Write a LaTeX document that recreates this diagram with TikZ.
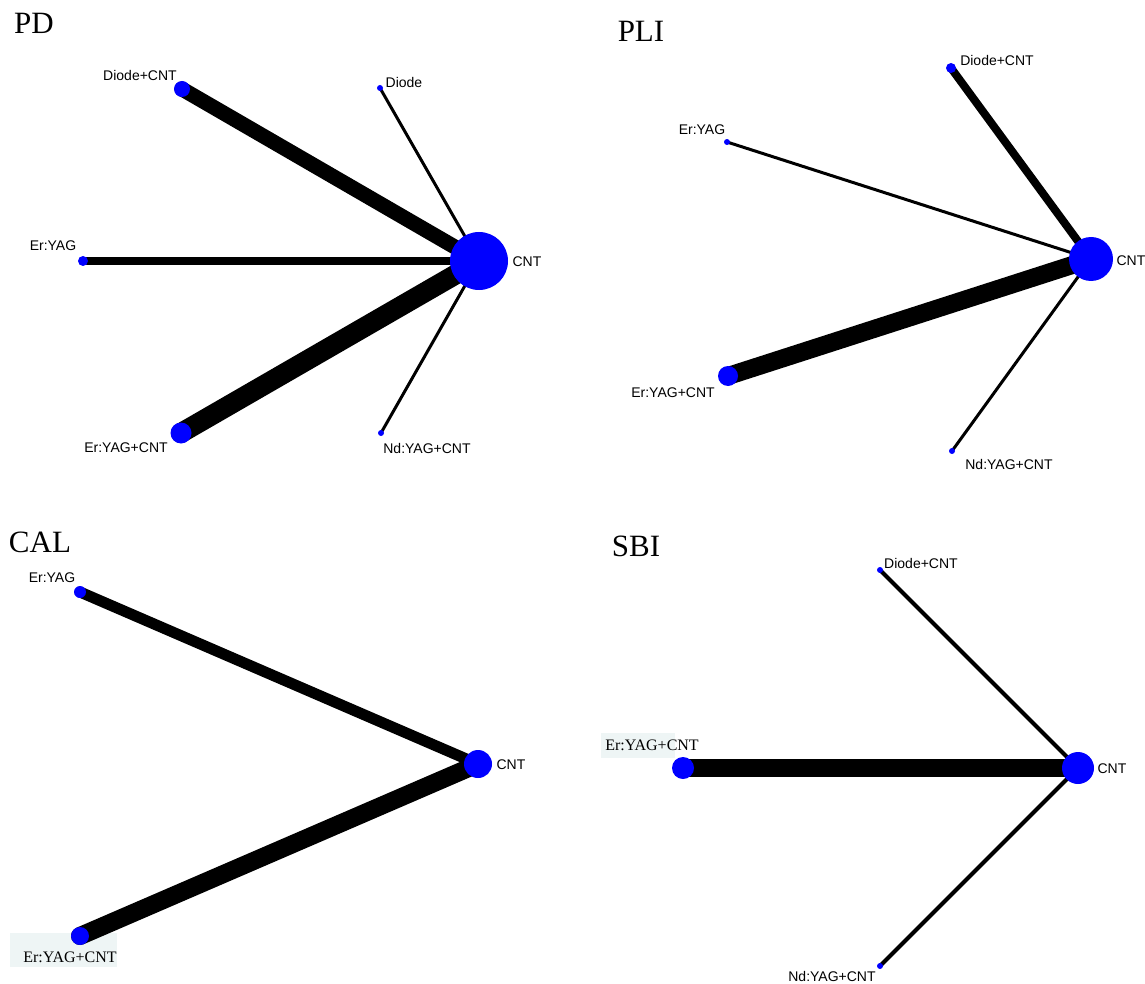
\documentclass[tikz,border=0pt]{standalone}
\usepackage{fontspec}
\setmainfont{Liberation Serif}
\newfontfamily\armfont{Liberation Sans}
\usetikzlibrary{backgrounds}

\definecolor{lbltint}{RGB}{238,245,245}
\tikzset{
	trt/.style={circle,fill=blue,inner sep=0pt,minimum size=#1},
	lbl/.style={font=\armfont\fontsize{14}{16}\selectfont,inner sep=0pt},
	slbl/.style={font=\fontsize{16}{18}\selectfont,inner sep=0pt},
	ttl/.style={font=\fontsize{31}{34}\selectfont,inner sep=0pt},
	lnk/.style={draw=black,line cap=round,line width=#1}
}

\begin{document}
\begin{tikzpicture}[x=1pt,y=-1pt]
			\useasboundingbox (0,0) rectangle (1145,984);
			% PD
			\draw (34,23) node [ttl] (pdT) {PD};
			\draw (479,261) node [trt=58pt] (pdC) {};
			\draw (182,89) node [trt=16pt] (pdDC) {};
			\draw (380,88) node [trt=6pt] (pdD) {};
			\draw (83,261) node [trt=10pt] (pdE) {};
			\draw (181,433) node [trt=21pt] (pdEC) {};
			\draw (381,433) node [trt=6pt] (pdN) {};
			\draw (527,262) node [lbl] (pdCl) {CNT};
			\draw (140,75) node [lbl] (pdDCl) {Diode+CNT};
			\draw (404,82) node [lbl] (pdDl) {Diode};
			\draw (53,246) node [lbl] (pdEl) {Er:YAG};
			\draw (126,448) node [lbl] (pdECl) {Er:YAG+CNT};
			\draw (427,448) node [lbl] (pdNl) {Nd:YAG+CNT};
			% PLI
			\draw (641,31) node [ttl] (plT) {PLI};
			\draw (1091,259) node [trt=44pt] (plC) {};
			\draw (951,68) node [trt=10pt] (plDC) {};
			\draw (727,142) node [trt=6pt] (plE) {};
			\draw (728,376) node [trt=20pt] (plEC) {};
			\draw (952,451) node [trt=6pt] (plN) {};
			\draw (1131,261) node [lbl] (plCl) {CNT};
			\draw (997,60) node [lbl] (plDCl) {Diode+CNT};
			\draw (702,130) node [lbl] (plEl) {Er:YAG};
			\draw (673,393) node [lbl] (plECl) {Er:YAG+CNT};
			\draw (1009,464) node [lbl] (plNl) {Nd:YAG+CNT};
			% CAL
			\draw (40,542) node [ttl] (caT) {CAL};
			\draw (478,764) node [trt=28pt] (caC) {};
			\draw (80,592) node [trt=12pt] (caE) {};
			\draw (80,936) node [trt=18pt] (caEC) {};
			\draw (511,765) node [lbl] (caCl) {CNT};
			\draw (52,578) node [lbl] (caEl) {Er:YAG};
			\draw (70,957) node [slbl] (caECl) {Er:YAG+CNT};
			% SBI
			\draw (636,546) node [ttl] (sbT) {SBI};
			\draw (1078,768) node [trt=32pt] (sbC) {};
			\draw (880,570) node [trt=6pt] (sbDC) {};
			\draw (683,768) node [trt=22pt] (sbEC) {};
			\draw (880,966) node [trt=6pt] (sbN) {};
			\draw (1112,769) node [lbl] (sbCl) {CNT};
			\draw (921,563) node [lbl] (sbDCl) {Diode+CNT};
			\draw (652,745) node [slbl] (sbECl) {Er:YAG+CNT};
			\draw (832,976) node [lbl] (sbNl) {Nd:YAG+CNT};
			\begin{pgfonlayer}{background}
				\fill[white] (0,0) rectangle (1145,984);
				\fill[lbltint] (10,933) rectangle (117,967);
				\fill[lbltint] (601,733) rectangle (675,758);
				\path
					(pdDC.center) edge [lnk=15pt] (pdC.center)
					(pdD.center) edge [lnk=3pt] (pdC.center)
					(pdE.center) edge [lnk=8pt] (pdC.center)
					(pdEC.center) edge [lnk=20pt] (pdC.center)
					(pdN.center) edge [lnk=3pt] (pdC.center)
					(plDC.center) edge [lnk=8pt] (plC.center)
					(plE.center) edge [lnk=3pt] (plC.center)
					(plEC.center) edge [lnk=18pt] (plC.center)
					(plN.center) edge [lnk=3pt] (plC.center)
					(caE.center) edge [lnk=11pt] (caC.center)
					(caEC.center) edge [lnk=18pt] (caC.center)
					(sbDC.center) edge [lnk=4pt] (sbC.center)
					(sbEC.center) edge [lnk=18pt] (sbC.center)
					(sbN.center) edge [lnk=4pt] (sbC.center);
			\end{pgfonlayer}
		\end{tikzpicture}
\end{document}
